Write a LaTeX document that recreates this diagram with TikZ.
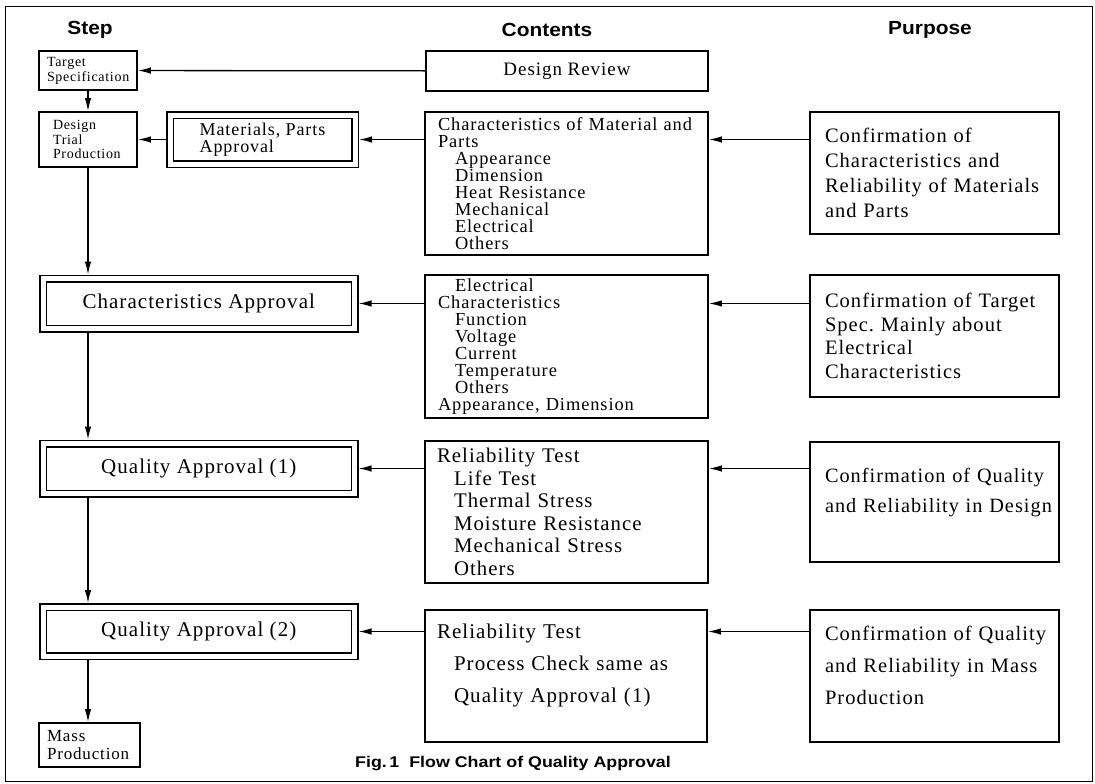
\documentclass[tikz,border=0pt]{standalone}
\usepackage{fontspec}
\setmainfont{Liberation Serif}[LetterSpace=5]
\setsansfont{Liberation Sans}
\newfontfamily\headfont{Liberation Sans}[FakeStretch=1.1]
\newfontfamily\capfont{Liberation Sans}[FakeStretch=1.15]
\usetikzlibrary{arrows.meta,positioning}
\frenchspacing
\newcommand\fsz[2]{\fontsize{#1}{#2}\selectfont}
\newcommand\indnt{\hspace*{17pt}}
\tikzset{
  box/.style={draw,rectangle,line width=1.7pt,inner sep=0pt},
  dbox/.style={draw,rectangle,double,double distance=5pt,line width=1.5pt,inner sep=0pt,outer sep=4pt},
  conn/.style={line width=1.3pt,-{Latex[length=13pt,width=6.5pt]}},
  head/.style={font=\headfont\bfseries\fsz{19}{22}}
}
\begin{document}
\begin{tikzpicture}[x=1pt,y=-1pt]
\useasboundingbox (0,0) rectangle (1095,784);
\draw[line width=1pt] (5,7) rectangle (1092,781);

% column heads
\node[head] (hstep) at (90,30) {Step};
\node[head] (hcont) at (547,30) {Contents};
\node[head] (hpurp) at (930,30) {Purpose};

% step column
\node[box,minimum width=98pt,minimum height=39pt,text width=82pt,align=left,font=\fsz{14}{15}] (target) at (88,70.5) {Target\\Specification};
\node[box,minimum width=98pt,minimum height=55pt,text width=70pt,align=left,font=\fsz{14}{14.5}] (design) at (88,139.5) {Design\\Trial\\Production};
\node[dbox,minimum width=185pt,minimum height=49pt,align=left,font=\fsz{18}{17}] (mat) at (262.5,139.5) {Materials, Parts\\Approval};
\node[dbox,minimum width=311.5pt,minimum height=50pt,font=\fsz{21}{24}] (charap) at (198.75,303.5) {Characteristics Approval};
\node[dbox,minimum width=311.5pt,minimum height=50pt,font=\fsz{21}{24}] (qa1) at (198.75,468.5) {Quality Approval (1)};
\node[dbox,minimum width=311.5pt,minimum height=49pt,font=\fsz{21}{24}] (qa2) at (198.75,631.5) {Quality Approval (2)};
\node[box,minimum width=101pt,minimum height=44pt,text width=85pt,align=left,font=\fsz{17}{18}] (mass) at (89.5,745) {Mass\\Production};

% contents column
\node[box,minimum width=282pt,minimum height=40pt,font=\fsz{19}{22}] (review) at (567,71) {Design Review};
\node[box,minimum width=283pt,minimum height=143pt,text width=257pt,align=left,font=\fsz{18.4}{17}] (cmat) at (566.5,183.5)
  {\mbox{Characteristics of Material and}\\Parts\\\indnt Appearance\\\indnt Dimension\\\indnt Heat Resistance\\\indnt Mechanical\\\indnt Electrical\\\indnt Others};
\node[box,minimum width=283pt,minimum height=143pt,text width=257pt,align=left,font=\fsz{18.4}{17}] (celec) at (566.5,346.5)
  {\indnt Electrical\\Characteristics\\\indnt Function\\\indnt Voltage\\\indnt Current\\\indnt Temperature\\\indnt Others\\Appearance, Dimension};
\node[box,minimum width=283pt,minimum height=142pt,text width=259pt,align=left,font=\fsz{20.8}{22.5}] (rel1) at (566.5,512)
  {Reliability Test\\\indnt Life Test\\\indnt Thermal Stress\\\indnt Moisture Resistance\\\indnt Mechanical Stress\\\indnt Others};
\node[box,minimum width=282pt,minimum height=132pt,text width=258pt,text depth=90pt,align=left,font=\fsz{21}{32}] (rel2) at (566,676)
  {Reliability Test\\\indnt \mbox{Process Check same as}\\\indnt Quality Approval (1)};

% purpose column
\node[box,minimum width=249pt,minimum height=122pt,text width=219pt,align=left,font=\fsz{20.5}{25}] (pmat) at (934.5,173)
  {Confirmation of\\Characteristics and\\\mbox{Reliability of Materials}\\and Parts};
\node[box,minimum width=249pt,minimum height=122pt,text width=219pt,align=left,font=\fsz{20.5}{23.5}] (pelec) at (934.5,336)
  {\mbox{Confirmation of Target}\\Spec. Mainly about\\Electrical\\Characteristics};
\node[box,minimum width=249pt,minimum height=120pt,text width=219pt,text depth=54pt,align=left,font=\fsz{20.3}{30}] (pqa1) at (934.5,502)
  {\mbox{Confirmation of Quality}\\\mbox{and Reliability in Design}};
\node[box,minimum width=249pt,minimum height=132pt,text width=219pt,text depth=86pt,align=left,font=\fsz{20.5}{32}] (pqa2) at (934.5,676)
  {\mbox{Confirmation of Quality}\\\mbox{and Reliability in Mass}\\Production};

\node[font=\capfont\bfseries\fsz{15.5}{18}] (cap) at (513,764) {Fig.\,1\ \ Flow Chart of Quality Approval};

% horizontal connectors
\draw[conn] (review) -- (target);
\draw[conn] (cmat.west |- mat.east) -- (mat.east);
\draw[conn] (mat.west) -- (design.east);
\draw[conn] (pmat.west |- mat.east) -- (cmat.east |- mat.east);
\draw[conn] (celec.west |- charap.east) -- (charap.east);
\draw[conn] (pelec.west |- charap.east) -- (celec.east |- charap.east);
\draw[conn] (rel1.west |- qa1.east) -- (qa1.east);
\draw[conn] (pqa1.west |- qa1.east) -- (rel1.east |- qa1.east);
\draw[conn] (rel2.west |- qa2.east) -- (qa2.east);
\draw[conn] (pqa2.west |- qa2.east) -- (rel2.east |- qa2.east);

% step flow
\draw[conn] (target) -- (design);
\draw[conn] (design.south) -- (design.south |- charap.north);
\draw[conn] (design.south |- charap.south) -- (design.south |- qa1.north);
\draw[conn] (design.south |- qa1.south) -- (design.south |- qa2.north);
\draw[conn] (design.south |- qa2.south) -- (design.south |- mass.north);
\end{tikzpicture}
\end{document}
